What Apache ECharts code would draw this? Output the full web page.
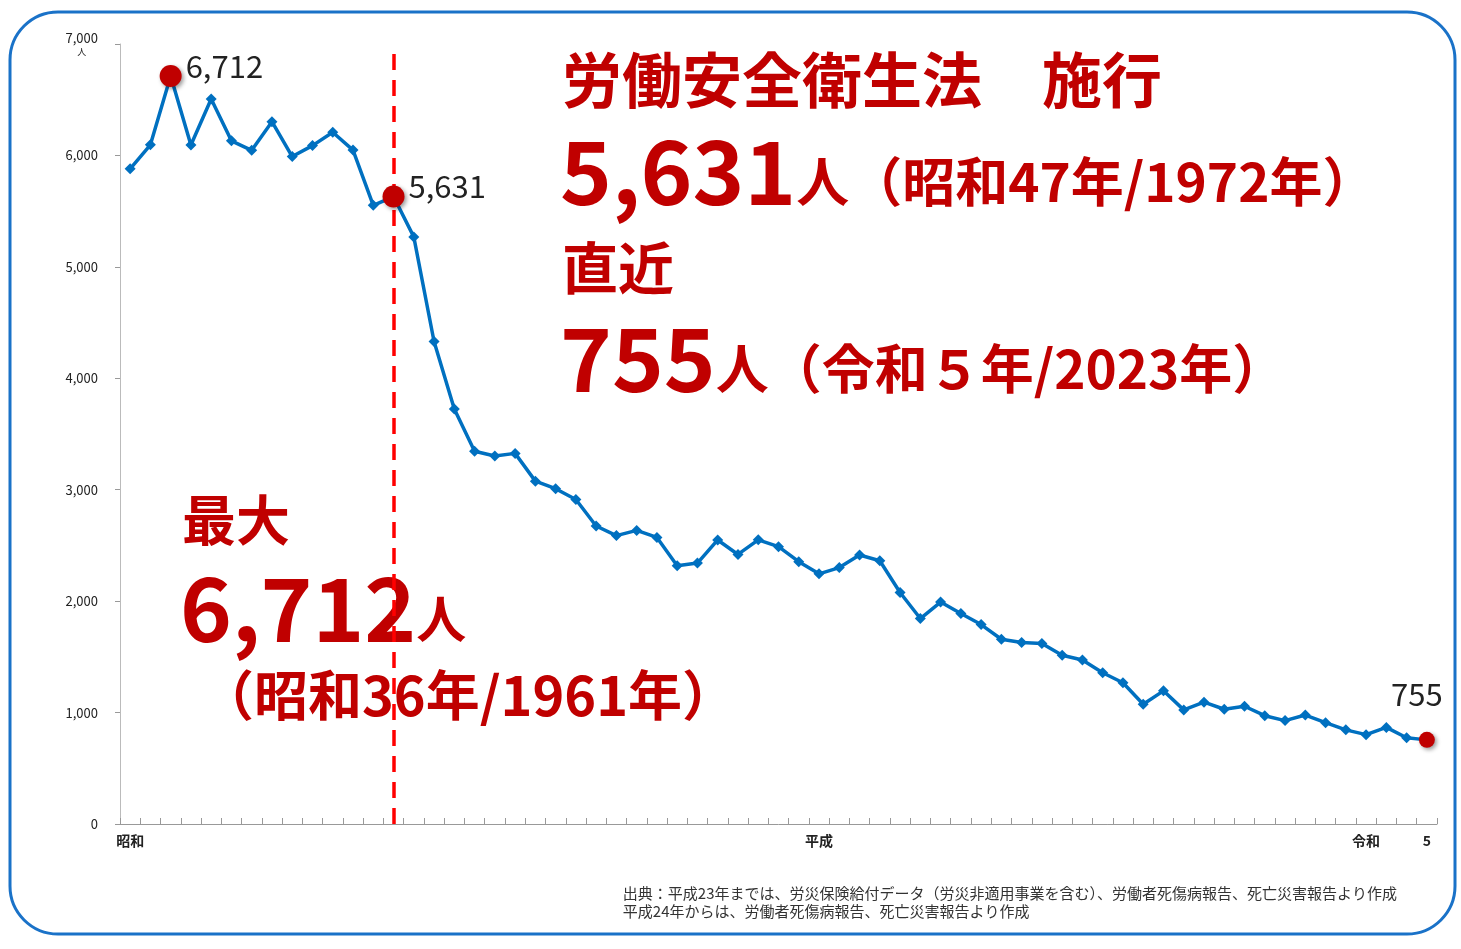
<!DOCTYPE html>
<html><head><meta charset="utf-8">
<script src="https://cdn.jsdelivr.net/npm/echarts@6/dist/echarts.min.js"></script>
<style>html,body{margin:0;padding:0;background:#fff}#c{width:1461px;height:949px}</style>
</head><body><div id="c"></div>
<script>
const years = [];
for (let y = 1959; y <= 2023; y++) years.push(String(y));
const deaths = [5880,6095,6712,6093,6506,6131,6046,6303,5990,6088,6208,6048,5552,5631,5269,4330,3725,3345,3302,3326,3077,3009,2912,2674,2588,2635,2572,2318,2342,2549,2419,2550,2489,2354,2245,2301,2414,2363,2078,1844,1992,1889,1790,1658,1628,1620,1514,1472,1357,1268,1075,1195,1024,1093,1030,1057,972,928,978,909,845,802,867,774,755];
const eraLabels = {'1959':'昭和','1993':'平成','2020':'令和','2023':'5'};
const highlights = [{year:'1961',value:6712,pos:'right'},{year:'1972',value:5631,pos:'right'},{year:'2023',value:755,pos:'top'}];
const lawYear = '1972';
const red = '#c00000';
const chart = echarts.init(document.getElementById('c'));
const f = '"Noto Sans CJK JP", sans-serif';
chart.setOption({
  animation:false,
  grid:{left:120,right:24,top:44,bottom:125},
  xAxis:{type:'category',data:years,boundaryGap:true,
    axisLine:{lineStyle:{color:'#999'}},
    axisTick:{show:true,interval:0,lineStyle:{color:'#999'},length:6,inside:true},
    axisLabel:{interval:0,fontFamily:f,fontSize:14,color:'#222',fontWeight:'bold',margin:10,
      formatter:v=>eraLabels[v]||''}},
  yAxis:{type:'value',min:0,max:7000,interval:1000,
    axisLine:{show:true,lineStyle:{color:'#bbb'}},axisTick:{show:true,length:5,lineStyle:{color:'#999'}},
    splitLine:{show:false},
    axisLabel:{fontFamily:f,fontSize:13,color:'#222',margin:22,
      formatter:v=>v===7000?'{a|7,000}\n{b|人}':v.toLocaleString('en-US'),
      rich:{a:{fontSize:13,fontFamily:f,color:'#222'},b:{fontSize:9,fontFamily:f,color:'#222',align:'center',padding:[2,0,0,0]}}}},
  series:[{type:'line',data:deaths,symbol:'diamond',symbolSize:11,
    lineStyle:{color:'#0070c0',width:3.5},itemStyle:{color:'#0070c0'},
    markLine:{silent:true,symbol:'none',label:{show:false},
      lineStyle:{color:'#ff0000',type:[16,10],width:3.5},data:[{xAxis:lawYear}]},
    markPoint:{symbol:'circle',symbolSize:22,itemStyle:{color:red,shadowBlur:4,shadowColor:'rgba(0,0,0,0.4)',shadowOffsetX:2,shadowOffsetY:2},
      data:highlights.map(h=>({coord:[h.year,h.value],value:h.value,symbolSize:h.year==='2023'?16:22,
        label:{show:true,position:h.pos,distance:h.pos==='top'?22:4,offset:h.pos==='top'?[-10,0]:[0,-10],
          formatter:p=>p.value.toLocaleString('en-US'),color:'#222',fontSize:31,fontFamily:f}}))}}],
  graphic:[
    {type:'rect',shape:{x:10,y:12,width:1445,height:922,r:48},style:{fill:'none',stroke:'#1a72c8',lineWidth:3},z:-1},
    {type:'text',left:562,top:50,style:{text:'労働安全衛生法　施行',font:'bold 60px '+f,fill:red}},
    {type:'text',left:560,top:128,style:{text:'{a|5,631}{b|人（昭和47年/1972年）}',rich:{a:{fontFamily:f,fontSize:88,fontWeight:'bold',fill:red},b:{fontFamily:f,fontSize:53,fontWeight:'bold',fill:red,padding:[20,0,0,0]}}}},
    {type:'text',left:562,top:240,style:{text:'直近',font:'bold 56px '+f,fill:red}},
    {type:'text',left:560,top:315,style:{text:'{a|755}{b|人（令和５年/2023年）}',rich:{a:{fontFamily:f,fontSize:88,fontWeight:'bold',fill:red},b:{fontFamily:f,fontSize:53,fontWeight:'bold',fill:red,padding:[20,0,0,0]}}}},
    {type:'text',left:182,top:493,style:{text:'最大',font:'bold 54px '+f,fill:red}},
    {type:'text',left:180,top:565,style:{text:'{a|6,712}{b|人}',rich:{a:{fontFamily:f,fontSize:88,fontWeight:'bold',fill:red},b:{fontFamily:f,fontSize:50,fontWeight:'bold',fill:red,padding:[20,0,0,0]}}}},
    {type:'text',left:200,top:668,style:{text:'（昭和36年/1961年）',font:'bold 54px '+f,fill:red}},
    {type:'text',right:64,top:884,style:{text:'出典：平成23年までは、労災保険給付データ（労災非適用事業を含む）、労働者死傷病報告、死亡災害報告より作成\n平成24年からは、労働者死傷病報告、死亡災害報告より作成',font:'15px '+f,fill:'#333',align:'right',lineHeight:18}}
  ]
});
</script></body></html>
